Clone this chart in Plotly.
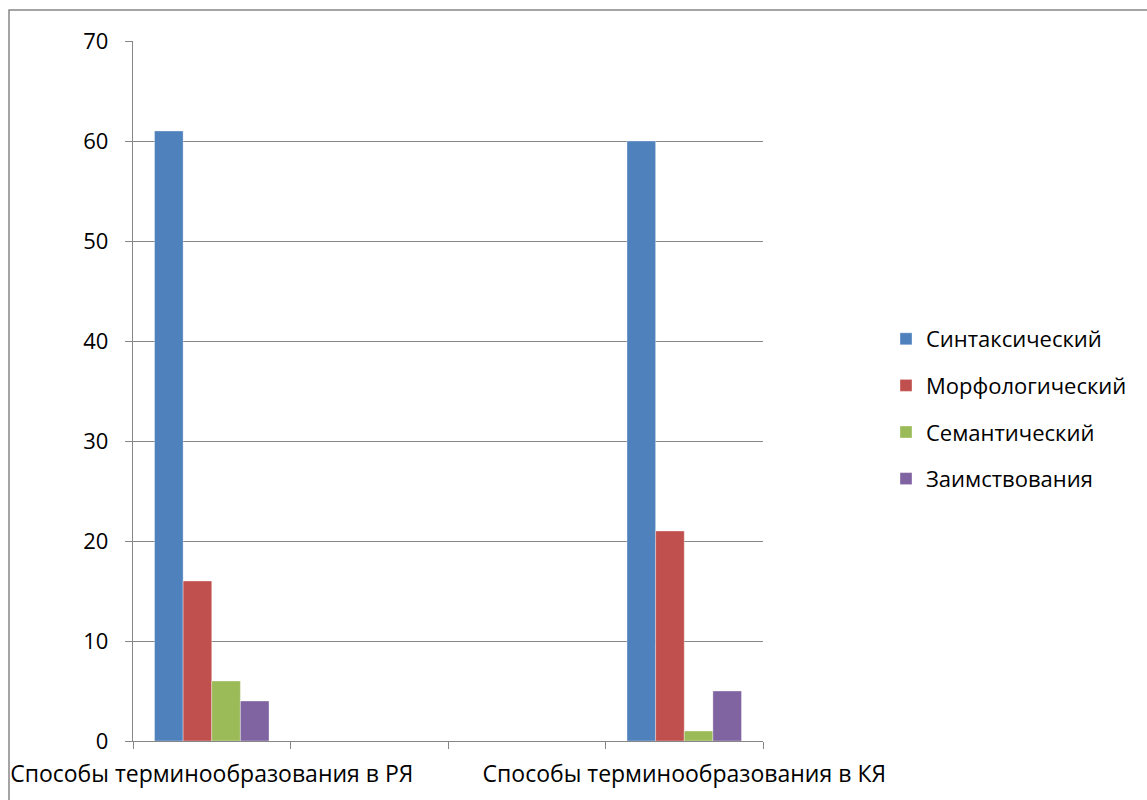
import plotly.graph_objects as go

# Category slots on the x axis (two labelled groups, two empty slots between them)
categories = ["Способы терминообразования в РЯ", " ", "  ", "Способы терминообразования в КЯ"]

series_names = ["Синтаксический", "Морфологический", "Семантический", "Заимствования"]
syntactic = [61, None, None, 60]
morphological = [16, None, None, 21]
semantic = [6, None, None, 1]
borrowed = [4, None, None, 5]

colors = ["#4F81BD", "#C0504D", "#9BBB59", "#8064A2"]
y_ticks = [0, 10, 20, 30, 40, 50, 60, 70]

FONT = "Open Sans, Noto Sans, sans-serif"
FS = 22
GREY = "#868686"

fig = go.Figure()
for i, (name, vals) in enumerate(zip(series_names, [syntactic, morphological, semantic, borrowed])):
    fig.add_trace(go.Bar(
        x=categories, y=vals, name=name,
        marker=dict(color=colors[i], line=dict(color="rgba(255,255,255,0.35)", width=1)),
        legendgroup=f"g{i}",
    ))

W, H = 1147, 800
L, T, R, B = 133, 41, 1147 - 763, 800 - 741
pw, ph = W - L - R, H - T - B

fig.update_layout(
    width=W, height=H,
    margin=dict(l=L, r=R, t=T, b=B, autoexpand=False),
    paper_bgcolor="white", plot_bgcolor="white",
    barmode="group", bargap=0.273, bargroupgap=0,
    font=dict(family=FONT, size=FS, color="black"),
    showlegend=True,
    legend=dict(
        x=(886 - L) / pw, xanchor="left",
        y=(741 - 409) / ph, yanchor="middle",
        font=dict(size=FS, family=FONT),
        traceorder="grouped", tracegroupgap=15,
        bgcolor="rgba(0,0,0,0)",
    ),
    xaxis=dict(
        type="category", categoryorder="array", categoryarray=categories,
        range=[-0.5, 3.5], tickangle=0, automargin=False,
        tickson="boundaries", ticks="outside", ticklen=7, tickcolor=GREY, tickwidth=1.3,
        showline=True, linecolor=GREY, linewidth=1.3,
        showgrid=False, zeroline=False,
        tickfont=dict(size=23, family=FONT),
        ticklabelstandoff=12,
    ),
    yaxis=dict(
        range=[0, 70], tickvals=y_ticks, automargin=False,
        ticks="outside", ticklen=7, tickcolor=GREY, tickwidth=1.3,
        showline=True, linecolor=GREY, linewidth=1.3,
        showgrid=True, gridcolor=GREY, gridwidth=1.3,
        zeroline=False,
        tickfont=dict(size=FS, family=FONT),
        ticklabelstandoff=12,
    ),
    shapes=[dict(
        type="rect", xref="paper", yref="paper",
        x0=(9 - L) / pw, x1=(1152 - L) / pw,
        y0=(741 - 805) / ph, y1=(741 - 10) / ph,
        line=dict(color=GREY, width=1.5), fillcolor="rgba(0,0,0,0)",
        layer="below",
    )],
)

fig.write_html("out.html")
